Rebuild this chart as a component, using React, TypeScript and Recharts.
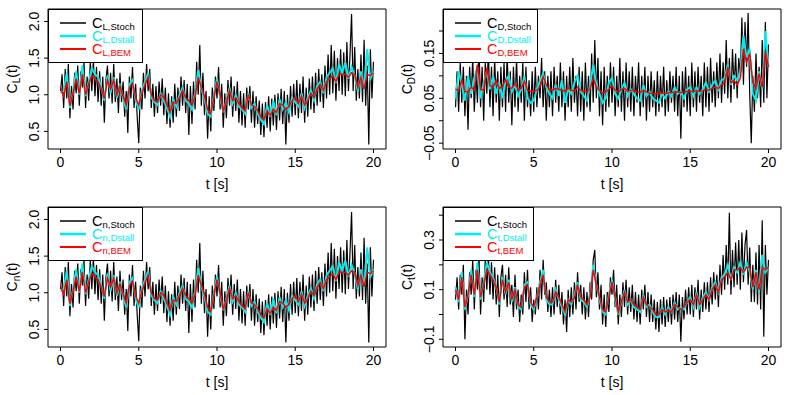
import React from 'react';
import { LineChart, Line, XAxis, YAxis, ReferenceArea } from 'recharts';

const FONT = '"Liberation Sans", Arial, Helvetica, sans-serif';

// time ticks (s); every series runs from 0 to 20 s
const tTicks = [0, 5, 10, 15, 20];

// ---- lift coefficient C_L ----
const clStoch = [
  1.05, 1.28, 0.82, 1.35, 0.95, 1.42, 0.68, 1.12, 0.80, 1.30,
  1.02, 1.40, 0.85, 1.32, 1.10, 1.45, 0.82, 1.25, 0.92, 1.44,
  1.05, 1.48, 0.98, 1.38, 0.90, 1.32, 0.85, 1.25, 0.62, 1.20,
  1.40, 0.95, 1.30, 0.88, 1.42, 0.90, 1.22, 0.75, 1.30, 0.90,
  1.18, 0.70, 1.05, 0.48, 1.25, 0.95, 1.38, 0.82, 1.15, 0.70,
  0.34, 1.10, 0.80, 1.30, 0.95, 1.42, 1.05, 1.35, 0.82, 1.15,
  0.70, 1.12, 0.75, 1.18, 0.85, 1.22, 0.72, 1.10, 0.60, 1.02,
  0.55, 0.98, 0.62, 1.15, 0.70, 1.10, 0.78, 1.25, 0.85, 1.20,
  0.75, 1.15, 0.45, 1.12, 0.60, 1.18, 0.80, 1.45, 1.00, 1.68,
  0.85, 1.30, 0.72, 1.05, 0.40, 0.98, 0.50, 1.10, 0.78, 1.25,
  0.95, 1.38, 0.80, 1.15, 0.55, 1.02, 0.68, 1.20, 0.85, 1.25,
  0.70, 1.12, 0.78, 1.18, 0.62, 1.05, 0.58, 1.02, 0.55, 1.10,
  0.80, 1.12, 0.62, 1.05, 0.55, 0.98, 0.60, 0.92, 0.45, 0.88,
  0.42, 0.90, 0.55, 0.98, 0.50, 0.95, 0.58, 1.00, 0.52, 1.02,
  0.65, 1.08, 0.60, 1.05, 0.32, 1.00, 0.62, 1.12, 0.70, 1.15,
  0.72, 1.20, 0.68, 1.15, 0.75, 1.25, 0.62, 1.10, 0.70, 1.22,
  0.80, 1.25, 0.75, 1.30, 0.85, 1.35, 0.90, 1.28, 0.82, 1.40,
  0.95, 1.55, 1.00, 1.68, 1.02, 1.60, 0.92, 1.50, 1.05, 1.62,
  1.00, 1.58, 0.98, 1.72, 1.05, 1.55, 2.10, 1.05, 1.65, 0.92,
  1.35, 0.95, 1.55, 0.90, 1.75, 0.85, 1.40, 0.32, 1.62, 0.95,
  1.45,
];
const clDstall = [
  1.02, 1.05, 1.30, 0.82, 1.05, 1.32, 1.00, 1.40, 0.98, 1.18,
  1.36, 1.28, 1.24, 1.10, 0.92, 1.26, 1.02, 1.24, 0.96, 1.15,
  0.95, 0.80, 1.14, 1.20, 0.92, 0.80, 1.06, 1.18, 1.30, 0.96,
  0.90, 0.86, 1.02, 0.92, 0.82, 0.70, 0.94, 0.84, 1.00, 1.10,
  0.92, 0.88, 0.80, 1.02, 1.34, 1.08, 0.94, 0.74, 0.70, 1.00,
  1.22, 0.96, 0.76, 0.92, 1.10, 0.88, 1.00, 0.84, 0.80, 0.74,
  1.02, 0.82, 0.88, 0.74, 0.66, 0.60, 0.86, 0.70, 0.92, 0.72,
  0.94, 0.80, 0.90, 0.76, 0.96, 0.90, 0.84, 1.02, 0.82, 0.96,
  1.06, 0.92, 1.12, 1.18, 1.02, 1.24, 1.30, 1.36, 1.16, 1.42,
  1.30, 1.44, 1.22, 1.38, 1.26, 1.04, 1.32, 1.06, 1.62, 1.22,
  1.32,
];
const clBem = [
  1.10, 0.98, 1.18, 0.85, 1.02, 1.22, 1.02, 1.28, 1.00, 1.15,
  1.26, 1.22, 1.18, 1.08, 0.95, 1.20, 1.08, 1.20, 1.00, 1.12,
  0.98, 0.86, 1.10, 1.16, 0.96, 0.86, 1.02, 1.14, 1.24, 1.00,
  0.92, 0.90, 1.00, 0.96, 0.86, 0.76, 0.90, 0.88, 0.96, 1.06,
  0.96, 0.92, 0.86, 0.98, 1.24, 1.10, 0.98, 0.80, 0.74, 0.96,
  1.18, 1.00, 0.78, 0.90, 1.06, 0.92, 0.96, 0.88, 0.82, 0.78,
  1.00, 0.86, 0.84, 0.78, 0.70, 0.66, 0.78, 0.72, 0.80, 0.76,
  0.88, 0.86, 0.80, 0.84, 0.92, 0.96, 0.88, 0.98, 0.86, 0.92,
  1.02, 0.96, 1.08, 1.14, 1.06, 1.18, 1.22, 1.26, 1.18, 1.28,
  1.28, 1.28, 1.24, 1.30, 1.28, 1.10, 1.24, 1.08, 1.28, 1.26,
  1.30,
];

// ---- normal coefficient C_n (reads the same as C_L in the figure) ----
const cnStoch = clStoch;
const cnDstall = clDstall;
const cnBem = clBem;

// ---- drag coefficient C_D ----
const cdStoch = [
  0.03, 0.11, 0.02, 0.13, 0.04, 0.12, 0.01, 0.10, -0.02, 0.12,
  0.05, 0.14, 0.02, 0.11, 0.04, 0.17, 0.03, 0.12, 0.00, 0.13,
  0.06, 0.16, 0.03, 0.12, 0.01, 0.14, 0.04, 0.11, 0.00, 0.12,
  0.03, 0.13, 0.02, 0.15, 0.04, 0.11, -0.01, 0.12, 0.03, 0.14,
  0.02, 0.10, 0.04, 0.13, 0.00, 0.12, 0.03, 0.09, 0.01, 0.11,
  0.02, 0.12, 0.03, 0.10, 0.05, 0.14, 0.03, 0.11, 0.00, 0.10,
  0.03, 0.11, 0.01, 0.12, 0.04, 0.10, 0.02, 0.13, 0.03, 0.11,
  0.00, 0.10, 0.03, 0.12, 0.02, 0.14, 0.04, 0.10, 0.01, 0.12,
  0.02, 0.11, 0.00, 0.13, 0.03, 0.10, 0.02, 0.15, 0.04, 0.18,
  0.05, 0.14, 0.01, 0.11, -0.01, 0.12, 0.02, 0.10, 0.03, 0.13,
  0.04, 0.12, 0.01, 0.10, 0.03, 0.14, 0.02, 0.11, 0.00, 0.13,
  0.03, 0.11, 0.02, 0.12, 0.01, 0.10, 0.04, 0.13, 0.01, 0.10,
  0.03, 0.12, 0.00, 0.10, 0.02, 0.11, 0.03, 0.09, 0.01, 0.11,
  0.02, 0.10, 0.03, 0.12, 0.01, 0.09, 0.02, 0.11, 0.04, 0.10,
  0.02, 0.12, 0.01, 0.10, -0.04, 0.11, 0.03, 0.12, 0.02, 0.10,
  0.01, 0.13, 0.03, 0.11, 0.02, 0.12, 0.04, 0.10, 0.01, 0.13,
  0.03, 0.12, 0.02, 0.14, 0.04, 0.11, 0.03, 0.13, 0.05, 0.15,
  0.04, 0.13, 0.06, 0.18, 0.05, 0.14, 0.04, 0.16, 0.07, 0.15,
  0.05, 0.14, 0.10, 0.23, 0.08, 0.22, 0.12, 0.24, 0.06, -0.05,
  0.10, 0.02, 0.15, 0.05, 0.12, 0.03, 0.18, 0.04, 0.22, 0.05,
  0.17,
];
const cdDstall = [
  0.050, 0.110, 0.080, 0.045, 0.100, 0.060, 0.095, 0.120, 0.050, 0.085,
  0.110, 0.070, 0.100, 0.060, 0.085, 0.050, 0.090, 0.100, 0.065, 0.080,
  0.055, 0.070, 0.100, 0.050, 0.040, 0.045, 0.070, 0.090, 0.105, 0.075,
  0.060, 0.050, 0.080, 0.055, 0.090, 0.040, 0.070, 0.060, 0.085, 0.100,
  0.065, 0.055, 0.045, 0.080, 0.125, 0.080, 0.060, 0.040, 0.050, 0.085,
  0.095, 0.060, 0.050, 0.070, 0.085, 0.055, 0.070, 0.060, 0.050, 0.045,
  0.080, 0.055, 0.065, 0.050, 0.045, 0.040, 0.060, 0.050, 0.065, 0.055,
  0.075, 0.060, 0.065, 0.050, 0.070, 0.075, 0.055, 0.075, 0.060, 0.070,
  0.085, 0.065, 0.080, 0.090, 0.070, 0.090, 0.095, 0.125, 0.080, 0.100,
  0.090, 0.110, 0.190, 0.140, 0.160, 0.060, 0.045, 0.110, 0.070, 0.200,
  0.120,
];
const cdBem = [
  0.070, 0.068, 0.090, 0.065, 0.064, 0.075, 0.068, 0.125, 0.070, 0.068,
  0.118, 0.078, 0.075, 0.090, 0.072, 0.078, 0.092, 0.075, 0.072, 0.082,
  0.070, 0.072, 0.088, 0.068, 0.066, 0.065, 0.068, 0.075, 0.098, 0.080,
  0.070, 0.068, 0.072, 0.070, 0.068, 0.066, 0.072, 0.068, 0.066, 0.075,
  0.068, 0.066, 0.064, 0.072, 0.095, 0.075, 0.068, 0.062, 0.064, 0.070,
  0.078, 0.068, 0.064, 0.070, 0.072, 0.066, 0.068, 0.066, 0.064, 0.063,
  0.068, 0.064, 0.062, 0.061, 0.060, 0.060, 0.062, 0.061, 0.062, 0.063,
  0.064, 0.064, 0.063, 0.064, 0.065, 0.066, 0.064, 0.068, 0.065, 0.066,
  0.070, 0.068, 0.072, 0.075, 0.072, 0.080, 0.085, 0.120, 0.085, 0.090,
  0.080, 0.095, 0.160, 0.130, 0.150, 0.085, 0.072, 0.105, 0.075, 0.155,
  0.120,
];

// ---- tangential coefficient C_t ----
const ctStoch = [
  0.06, 0.15, 0.02, 0.16, 0.08, 0.20, -0.10, 0.10, 0.00, 0.17,
  0.08, 0.22, 0.02, 0.18, 0.10, 0.24, 0.00, 0.15, 0.05, 0.22,
  0.10, 0.24, 0.08, 0.21, 0.06, 0.19, 0.04, 0.16, -0.01, 0.15,
  0.20, 0.06, 0.16, 0.03, 0.19, 0.04, 0.12, -0.01, 0.16, 0.02,
  0.10, -0.03, 0.08, 0.00, 0.17, 0.05, 0.18, 0.02, 0.11, -0.03,
  0.06, 0.00, 0.11, 0.02, 0.18, 0.06, 0.22, 0.08, 0.13, 0.01,
  0.10, -0.01, 0.11, 0.00, 0.14, 0.03, 0.12, 0.00, 0.09, -0.04,
  0.06, -0.07, 0.10, -0.01, 0.11, 0.00, 0.13, 0.02, 0.17, 0.05,
  0.12, 0.00, 0.11, -0.02, 0.09, -0.01, 0.13, 0.06, 0.22, 0.26,
  0.07, 0.17, 0.02, 0.12, -0.04, 0.08, -0.05, 0.09, 0.01, 0.15,
  0.08, 0.18, 0.03, 0.12, -0.04, 0.08, -0.01, 0.13, 0.03, 0.14,
  0.00, 0.11, 0.01, 0.12, -0.02, 0.09, -0.03, 0.08, -0.04, 0.10,
  0.02, 0.12, -0.01, 0.09, -0.03, 0.08, -0.03, 0.06, -0.06, 0.05,
  -0.07, 0.06, -0.04, 0.07, -0.05, 0.06, -0.03, 0.07, -0.04, 0.08,
  -0.02, 0.09, -0.03, 0.08, -0.11, 0.07, -0.02, 0.10, 0.00, 0.11,
  0.00, 0.12, -0.01, 0.11, 0.02, 0.14, -0.02, 0.10, 0.01, 0.13,
  0.02, 0.13, 0.01, 0.15, 0.04, 0.17, 0.06, 0.16, 0.03, 0.20,
  0.08, 0.24, 0.10, 0.28, 0.12, 0.41, 0.08, 0.26, 0.11, 0.29,
  0.12, 0.30, 0.10, 0.33, 0.13, 0.28, 0.34, 0.12, 0.27, 0.05,
  0.20, 0.05, 0.25, 0.04, 0.28, 0.02, 0.38, -0.09, 0.28, 0.08,
  0.22,
];
const ctDstall = [
  0.11, 0.05, 0.17, 0.02, 0.08, 0.18, 0.07, 0.21, 0.06, 0.13,
  0.21, 0.17, 0.15, 0.11, 0.04, 0.15, 0.08, 0.14, 0.05, 0.11,
  0.03, 0.02, 0.12, 0.13, 0.04, 0.02, 0.07, 0.13, 0.18, 0.06,
  0.04, 0.04, 0.10, 0.06, 0.03, 0.00, 0.06, 0.04, 0.08, 0.13,
  0.06, 0.05, 0.03, 0.08, 0.20, 0.12, 0.06, 0.01, 0.00, 0.08,
  0.14, 0.06, 0.00, 0.05, 0.10, 0.04, 0.06, 0.03, 0.02, 0.01,
  0.08, 0.03, 0.04, 0.01, -0.01, -0.01, 0.03, 0.00, 0.03, 0.01,
  0.05, 0.02, 0.03, 0.02, 0.05, 0.07, 0.03, 0.09, 0.03, 0.07,
  0.09, 0.06, 0.11, 0.13, 0.09, 0.15, 0.16, 0.20, 0.14, 0.19,
  0.17, 0.21, 0.16, 0.21, 0.17, 0.10, 0.18, 0.09, 0.24, 0.17,
  0.19,
];
const ctBem = [
  0.10, 0.06, 0.15, 0.03, 0.08, 0.16, 0.08, 0.18, 0.07, 0.12,
  0.18, 0.16, 0.14, 0.11, 0.05, 0.14, 0.09, 0.13, 0.06, 0.10,
  0.04, 0.03, 0.11, 0.12, 0.05, 0.03, 0.07, 0.12, 0.16, 0.07,
  0.05, 0.05, 0.09, 0.07, 0.04, 0.01, 0.06, 0.05, 0.07, 0.12,
  0.07, 0.06, 0.04, 0.07, 0.18, 0.12, 0.07, 0.02, 0.01, 0.07,
  0.13, 0.07, 0.01, 0.05, 0.09, 0.05, 0.06, 0.04, 0.03, 0.02,
  0.07, 0.04, 0.03, 0.02, 0.00, 0.00, 0.02, 0.01, 0.02, 0.01,
  0.04, 0.03, 0.02, 0.03, 0.05, 0.06, 0.04, 0.08, 0.04, 0.06,
  0.08, 0.06, 0.10, 0.12, 0.09, 0.14, 0.15, 0.17, 0.14, 0.18,
  0.18, 0.19, 0.17, 0.19, 0.19, 0.11, 0.17, 0.10, 0.19, 0.18,
  0.19,
];

const toPts = (vals: number[]) =>
  vals.map((v, i) => ({ t: (i * 20) / (vals.length - 1), v }));

const fmtTick = (v: number, digits: number) => v.toFixed(digits).replace('-', '\u2212');

const YTick = (props: any) => {
  const { x, y, payload, shown, digits } = props;
  const val = Number(payload.value);
  if (!shown.some((s: number) => Math.abs(s - val) < 1e-6)) return <g />;
  return (
    <text
      x={x}
      y={y}
      transform={`rotate(-90, ${x}, ${y})`}
      textAnchor="middle"
      fontSize={14}
      fill="#000"
    >
      {fmtTick(val, digits)}
    </text>
  );
};

const YTitle = (props: any) => {
  const vb = props.viewBox || { x: 0, y: 9, width: 48, height: 140 };
  const cx = vb.x + 17;
  const cy = vb.y + vb.height / 2;
  return (
    <text
      x={cx}
      y={cy}
      transform={`rotate(-90, ${cx}, ${cy})`}
      textAnchor="middle"
      fontSize={14}
      fill="#000"
    >
      C<tspan fontSize={10} dy={3}>{props.sub}</tspan>
      <tspan fontSize={14} dy={-3}>(t)</tspan>
    </text>
  );
};

// R style legend: white box with a black frame over the top-left corner of the plot
const LegendBox = ({ sub, width }: { sub: string; width: number }) => {
  const rows = [
    { label: 'Stoch', color: '#000', w: 1.5, y: 13 },
    { label: 'Dstall', color: '#00EEEE', w: 2.5, y: 26 },
    { label: 'BEM', color: '#FF0000', w: 2, y: 39 },
  ];
  return (
    <div
      style={{
        position: 'absolute',
        left: 48,
        top: 9,
        width,
        height: 54,
        boxSizing: 'border-box',
        border: '1px solid #000',
        background: '#fff',
      }}
    >
      <svg width={width - 2} height={52} style={{ display: 'block' }}>
        {rows.map((r) => (
          <g key={r.label}>
            <line x1={11} x2={37} y1={r.y} y2={r.y} stroke={r.color} strokeWidth={r.w} />
            <text x={43} y={r.y + 4.5} fill={r.color} fontSize={14.5}>
              C<tspan fontSize={9.5} dy={2}>{`${sub},${r.label}`}</tspan>
            </text>
          </g>
        ))}
      </svg>
    </div>
  );
};

interface PanelProps {
  left: number;
  top: number;
  sub: string;
  stoch: number[];
  dstall: number[];
  bem: number[];
  domain: [number, number];
  yTicks: number[];
  shown: number[];
  digits: number;
  legendWidth: number;
}

function Panel({ left, top, sub, stoch, dstall, bem, domain, yTicks, shown, digits, legendWidth }: PanelProps) {
  return (
    <div style={{ position: 'absolute', left, top, width: 394, height: 197 }}>
      <LineChart width={394} height={197} margin={{ top: 9, right: 8, left: 0, bottom: 0 }}>
        <XAxis
          type="number"
          dataKey="t"
          domain={[-0.8, 20.8]}
          ticks={tTicks}
          allowDataOverflow
          height={48}
          tickSize={4}
          tickMargin={4}
          axisLine={false}
          tickLine={{ stroke: '#000' }}
          tick={{ fill: '#000', fontSize: 14 }}
          label={{ value: 't [s]', position: 'insideBottom', offset: 8, fill: '#000', fontSize: 14 }}
        />
        <YAxis
          type="number"
          dataKey="v"
          domain={domain}
          ticks={yTicks}
          interval={0}
          allowDataOverflow
          width={48}
          tickSize={4}
          tickMargin={5}
          axisLine={false}
          tickLine={{ stroke: '#000' }}
          tick={<YTick shown={shown} digits={digits} />}
          label={<YTitle sub={sub} />}
        />
        <Line data={toPts(stoch)} dataKey="v" type="linear" stroke="#000" strokeWidth={1.2} dot={false} activeDot={false} isAnimationActive={false} />
        <Line data={toPts(dstall)} dataKey="v" type="linear" stroke="#00EEEE" strokeWidth={2} dot={false} activeDot={false} isAnimationActive={false} />
        <Line data={toPts(bem)} dataKey="v" type="linear" stroke="#FF0000" strokeWidth={1.5} dot={false} activeDot={false} isAnimationActive={false} />
        <ReferenceArea
          x1={-0.8}
          x2={20.8}
          y1={domain[0]}
          y2={domain[1]}
          fill="none"
          fillOpacity={0}
          stroke="#000"
          strokeWidth={1}
          ifOverflow="visible"
        />
      </LineChart>
      <LegendBox sub={sub} width={legendWidth} />
    </div>
  );
}

export default function App() {
  return (
    <div style={{ position: 'absolute', left: 0, top: 0, width: 789, height: 395, background: '#fff', fontFamily: FONT }}>
      <Panel left={0} top={0} sub="L" stoch={clStoch} dstall={clDstall} bem={clBem}
        domain={[0.26, 2.17]} yTicks={[0.5, 1.0, 1.5, 2.0]} shown={[0.5, 1.0, 1.5, 2.0]} digits={1} legendWidth={95} />
      <Panel left={395} top={0} sub="D" stoch={cdStoch} dstall={cdDstall} bem={cdBem}
        domain={[-0.063, 0.249]} yTicks={[-0.05, 0, 0.05, 0.1, 0.15, 0.2]} shown={[-0.05, 0.05, 0.15]} digits={2} legendWidth={95} />
      <Panel left={0} top={198} sub="n" stoch={cnStoch} dstall={cnDstall} bem={cnBem}
        domain={[0.26, 2.17]} yTicks={[0.5, 1.0, 1.5, 2.0]} shown={[0.5, 1.0, 1.5, 2.0]} digits={1} legendWidth={95} />
      <Panel left={395} top={198} sub="t" stoch={ctStoch} dstall={ctDstall} bem={ctBem}
        domain={[-0.131, 0.433]} yTicks={[-0.1, 0, 0.1, 0.2, 0.3, 0.4]} shown={[-0.1, 0.1, 0.3]} digits={1} legendWidth={91} />
    </div>
  );
}
